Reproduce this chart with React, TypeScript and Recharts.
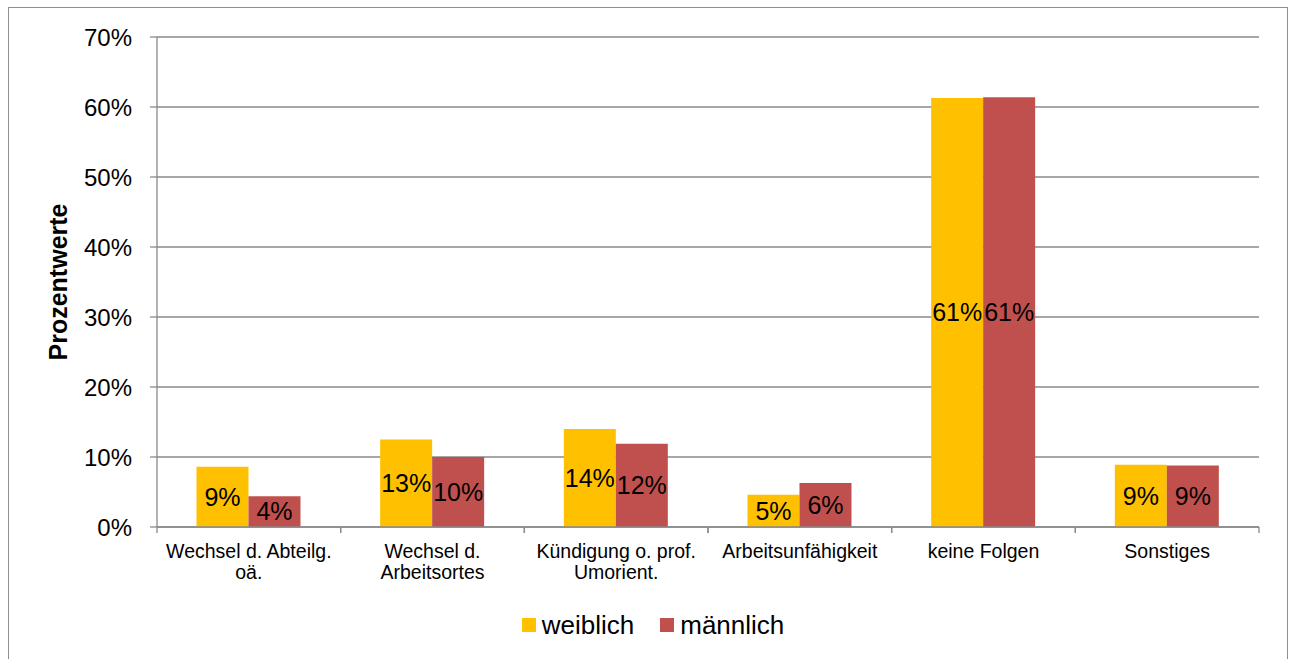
import React from 'react';
import { BarChart, Bar, XAxis, YAxis, CartesianGrid, Legend, LabelList } from 'recharts';

const categories = [
  'Wechsel d. Abteilg.\noä.',
  'Wechsel d.\nArbeitsortes',
  'Kündigung o. prof.\nUmorient.',
  'Arbeitsunfähigkeit',
  'keine Folgen',
  'Sonstiges',
];
const weiblich = [8.6, 12.5, 14.0, 4.6, 61.3, 8.9];
const maennlich = [4.4, 10.0, 11.9, 6.3, 61.4, 8.8];
const yTicks = [0, 10, 20, 30, 40, 50, 60, 70];
const seriesNames = ['weiblich', 'männlich'];
const colors = ['#FFC000', '#C0504D'];

const data = categories.map((c, i) => ({ name: c, w: weiblich[i], m: maennlich[i] }));

const FONT = '"Liberation Sans", Arial, Helvetica, sans-serif';
const W = 1278;
const H = 650;
const MARGIN = { top: 29, right: 28, left: 0, bottom: 18 };
const YAXIS_W = 148;
const BAND = (W - MARGIN.right - MARGIN.left - YAXIS_W) / categories.length;
const GRID = '#8a8a8a';

const XTick = (props: any) => {
  const { x, y, payload } = props;
  const axisY = y - 8;
  const lines = String(payload.value).split('\n');
  return (
    <g>
      <line x1={x - BAND / 2} x2={x - BAND / 2} y1={axisY} y2={axisY + 6} stroke={GRID} strokeWidth={1.3} />
      <line x1={x + BAND / 2} x2={x + BAND / 2} y1={axisY} y2={axisY + 6} stroke={GRID} strokeWidth={1.3} />
      {lines.map((l, i) => (
        <text key={i} x={x} y={axisY + 31 + i * 21} textAnchor="middle" fontSize={19.5} fontFamily={FONT} fill="#000">
          {l}
        </text>
      ))}
    </g>
  );
};

const YLabel = (props: any) => {
  const vb = props.viewBox;
  const cx = vb.x + 49;
  const cy = vb.y + vb.height / 2;
  return (
    <text
      x={cx}
      y={cy}
      transform={`rotate(-90, ${cx}, ${cy})`}
      textAnchor="middle"
      dominantBaseline="central"
      fontSize={25}
      fontWeight="bold"
      fontFamily={FONT}
      fill="#000"
    >
      Prozentwerte
    </text>
  );
};

const LegendContent = () => (
  <div style={{ display: 'flex', justifyContent: 'center', alignItems: 'center', height: 30, paddingLeft: 38, fontFamily: FONT, fontSize: 26, color: '#000' }}>
    {seriesNames.map((n, i) => (
      <div key={n} style={{ display: 'flex', alignItems: 'center', marginLeft: i ? 26 : 0 }}>
        <span style={{ display: 'inline-block', width: 14, height: 14, background: colors[i], marginRight: 6 }} />
        <span>{n}</span>
      </div>
    ))}
  </div>
);

const fmt = (v: any) => `${Math.round(Number(v))}%`;

export default function App() {
  return (
    <div
      style={{
        position: 'fixed',
        left: 8,
        top: 7,
        width: W,
        height: 660,
        overflow: 'hidden',
        border: '1px solid #8f8f8f',
        background: '#fff',
      }}
    >
      <BarChart width={W} height={H} data={data} margin={MARGIN} barCategoryGap="21.5%" barGap={0}>
        <CartesianGrid vertical={false} stroke={GRID} strokeWidth={1.3} />
        <XAxis
          dataKey="name"
          interval={0}
          height={83}
          tickLine={false}
          tickSize={6}
          tickMargin={2}
          axisLine={{ stroke: GRID, strokeWidth: 1.3 }}
          tick={<XTick />}
        />
        <YAxis
          width={YAXIS_W}
          domain={[0, 70]}
          ticks={yTicks}
          interval={0}
          tickFormatter={(v: number) => `${v}%`}
          tickSize={7}
          tickMargin={18}
          tickLine={{ stroke: GRID, strokeWidth: 1.3 }}
          axisLine={{ stroke: GRID, strokeWidth: 1.3 }}
          tick={{ fontSize: 24, fontFamily: FONT, fill: '#000' }}
          label={<YLabel />}
        />
        <Legend verticalAlign="bottom" height={30} content={<LegendContent />} />
        <Bar dataKey="w" name={seriesNames[0]} fill={colors[0]} isAnimationActive={false}>
          <LabelList dataKey="w" position="center" formatter={fmt} fontSize={25} fontFamily={FONT} fill="#000" />
        </Bar>
        <Bar dataKey="m" name={seriesNames[1]} fill={colors[1]} isAnimationActive={false}>
          <LabelList dataKey="m" position="center" formatter={fmt} fontSize={25} fontFamily={FONT} fill="#000" />
        </Bar>
      </BarChart>
    </div>
  );
}
